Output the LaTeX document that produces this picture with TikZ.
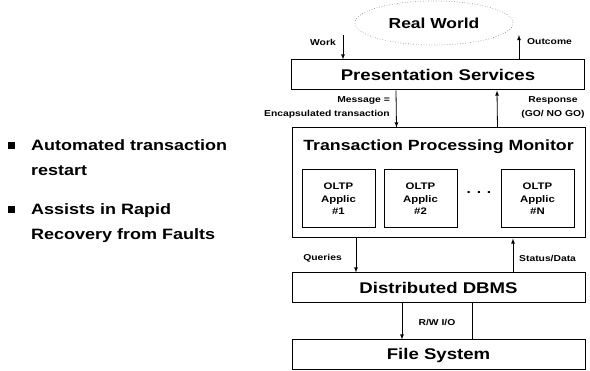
\documentclass[tikz,border=0pt]{standalone}
\usepackage{fontspec}
\setmainfont[FakeStretch=1.2]{Liberation Sans}
\usepackage{tikz}
\usetikzlibrary{arrows, shapes.geometric}

\begin{document}
\begin{tikzpicture}[x=1pt, y=-1pt,
				>=latex,   %kleine Pfeilspitzen
				schicht/.style={draw, line width=1pt, minimum width=293pt, minimum height=30pt, inner sep=0pt, font=\fontsize{15.5}{17}\selectfont\bfseries},
				appl/.style={draw, line width=1pt, minimum width=73pt, minimum height=58pt, align=center, inner sep=0pt, font=\fontsize{9.5}{12.5}\selectfont\bfseries},
				klein/.style={inner sep=1pt, font=\fontsize{8.6}{14}\selectfont\bfseries},
				punkt/.style={fill=black, minimum size=7pt, inner sep=0pt},
				liste/.style={anchor=north west, align=left, inner sep=0pt, font=\fontsize{15}{25}\selectfont\bfseries},
				pfeil/.style={->, line width=0.8pt}]
				%Bildbereich
				\useasboundingbox (0,0) rectangle (590,371);
				% Welt oben
				\node[draw, ellipse, dotted, gray, line width=0.6pt, minimum width=158pt, minimum height=44pt, inner sep=0pt] (welt) at (434,23) {};
				\node[font=\fontsize{14.5}{17}\selectfont\bfseries] (weltText) at (434,23) {Real World};
				% Schichten
				\node[schicht] (ps) at (438,75) {Presentation Services};
				\node[draw, line width=1pt, minimum width=293pt, minimum height=110pt, inner sep=0pt] (tpm) at (438.5,183) {};
				\node[font=\fontsize{14.8}{17}\selectfont\bfseries] (tpmText) at (438.5,147) {Transaction Processing Monitor};
				\node[appl] (app1) at (338.5,199) {OLTP\\Applic\\\#1};
				\node[appl] (app2) at (420.5,199) {OLTP\\Applic\\\#2};
				\node[appl] (appN) at (537.5,199) {OLTP\\Applic\\\#N};
				\node[font=\fontsize{13}{14}\selectfont\bfseries] (dots) at (479,193) {. . .};
				\node[schicht] (dbms) at (438.5,288) {Distributed DBMS};
				\node[schicht] (fs) at (438.5,355) {File System};
				% Verbindungen
				\coordinate (work) at (343,35);
				\coordinate (outc) at (519,35);
				\draw[pfeil] (work) -- (work |- ps.north);
				\draw[pfeil] (outc |- ps.north) -- (outc);
				\draw[pfeil] ([xshift=-42pt]ps.south) -- ([xshift=-42pt]tpm.north);
				\draw[pfeil] ([xshift=59pt]tpm.north) -- ([xshift=59pt]ps.south);
				\draw[pfeil] ([xshift=-82.5pt]tpm.south) -- ([xshift=-82.5pt]dbms.north);
				\draw[pfeil] ([xshift=74.5pt]dbms.north) -- ([xshift=74.5pt]tpm.south);
				\draw[pfeil] ([xshift=-36.5pt]dbms.south) -- ([xshift=-36.5pt]fs.north);
				\draw[line width=0.8pt] ([xshift=33.5pt]fs.north) -- ([xshift=33.5pt]dbms.south);
				% Beschriftung
				\node[klein, anchor=east] (workText) at (337,42) {Work};
				\node[klein, anchor=west] (outcText) at (526,42) {Outcome};
				\node[klein, anchor=east, align=right] (msgText) at (391,107) {Message =\\Encapsulated transaction};
				\node[klein, align=center] (respText) at (553,107) {Response\\(GO/ NO GO)};
				\node[klein, anchor=east] (qText) at (343,258) {Queries};
				\node[klein, anchor=west] (sText) at (518,258) {Status/Data};
				\node[klein] (rwText) at (437,322) {R/W I/O};
				% Aufzaehlung links
				\node[punkt] (p1) at (11,146) {};
				\node[liste] (l1) at (31,139) {Automated transaction\\restart};
				\node[punkt] (p2) at (11,210) {};
				\node[liste] (l2) at (31,203) {Assists in Rapid\\Recovery from Faults};
\end{tikzpicture}
\end{document}
